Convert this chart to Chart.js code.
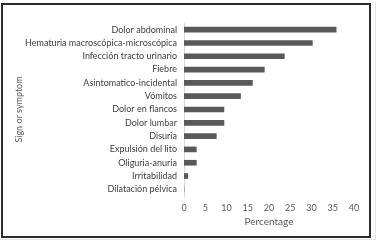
<!DOCTYPE html>
<html>
<head>
<meta charset="utf-8">
<script src="https://cdn.jsdelivr.net/npm/chart.js@4"></script>
<style>
  html, body { margin: 0; padding: 0; background: #fff; }
  #wrap { position: relative; width: 378px; height: 241px; overflow: hidden; }
  #outer { position: absolute; left: 0; top: 2px; width: 376px; height: 238px; border-right: 1px solid #e6e6e6; border-bottom: 1px solid #e6e6e6; box-sizing: border-box; }
  #frame { position: absolute; left: 1px; top: 3px; width: 370px; height: 235px; border: 2px solid #2b2b2b; box-sizing: border-box; }
  #chart { position: absolute; left: 0; top: 0; }
</style>
</head>
<body>
<div id="wrap">
  <div id="outer"></div>
  <div id="frame"></div>
  <canvas id="chart" width="378" height="241"></canvas>
</div>
<script>
// Signs and symptoms, top to bottom
const symptoms = [
  'Dolor abdominal',
  'Hematuria macroscópica-microscópica',
  'Infección tracto urinario',
  'Fiebre',
  'Asintomatico-incidental',
  'Vómitos',
  'Dolor en flancos',
  'Dolor lumbar',
  'Disuria',
  'Expulsión del lito',
  'Oliguria-anuria',
  'Irritabilidad',
  'Dilatación pélvica'
];
const percentage = [35.8, 30.2, 23.6, 18.9, 16.1, 13.3, 9.4, 9.4, 7.6, 2.9, 2.9, 0.9, 0];
const xTicks = [0, 5, 10, 15, 20, 25, 30, 35, 40];

const fontFamily = 'Lato, "Open Sans", sans-serif';

new Chart(document.getElementById('chart'), {
  type: 'bar',
  data: {
    labels: symptoms,
    datasets: [{
      label: 'Percentage',
      data: percentage,
      backgroundColor: '#595959',
      borderWidth: 0,
      barThickness: 5
    }]
  },
  options: {
    indexAxis: 'y',
    responsive: false,
    animation: false,
    layout: { padding: { left: 0, top: 23, right: 24, bottom: 11 } },
    plugins: {
      legend: { display: false },
      tooltip: { enabled: false }
    },
    scales: {
      y: {
        afterFit: scale => { scale.width = 184; },
        grid: { display: false, drawTicks: false },
        border: { display: true, color: '#d9d9d9', width: 1 },
        ticks: {
          autoSkip: false,
          padding: 7,
          color: '#404040',
          font: { family: fontFamily, size: 9 }
        },
        title: {
          display: true,
          text: 'Sign or symptom',
          color: '#595959',
          padding: { top: 14 },
          font: { family: fontFamily, size: 9 }
        }
      },
      x: {
        min: 0,
        max: 40,
        afterFit: scale => { scale.height = 34; },
        afterBuildTicks: scale => { scale.ticks = xTicks.map(v => ({ value: v })); },
        grid: { display: false, drawTicks: false },
        border: { display: false },
        ticks: {
          autoSkip: false,
          padding: 7,
          color: '#595959',
          font: { family: fontFamily, size: 9 }
        },
        title: {
          display: true,
          text: 'Percentage',
          color: '#595959',
          padding: { bottom: 2 },
          font: { family: fontFamily, size: 10 }
        }
      }
    }
  }
});
</script>
</body>
</html>
